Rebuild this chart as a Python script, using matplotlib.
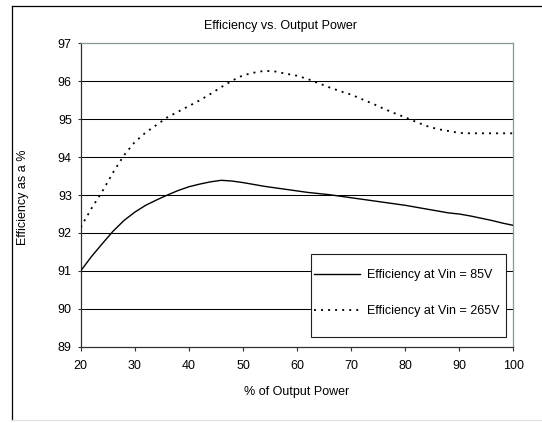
import matplotlib
matplotlib.use("Agg")
import matplotlib.pyplot as plt
from matplotlib.lines import Line2D
from matplotlib.patches import Rectangle

plt.rcParams['font.family'] = ['Liberation Sans', 'DejaVu Sans']
plt.rcParams['font.size'] = 9

# % of output power
power = [20, 22, 24, 26, 28, 30, 32, 34, 36, 38, 40, 42, 44, 46, 48, 50,
         52, 54, 56, 58, 60, 62, 64, 66, 68, 70, 72, 74, 76, 78, 80,
         82, 84, 86, 88, 90, 92, 94, 96, 98, 100]

# efficiency at Vin = 85V
eff_85 = [91.0, 91.38, 91.72, 92.05, 92.33, 92.55, 92.73, 92.87, 93.0, 93.12, 93.22,
          93.29, 93.35, 93.39, 93.37, 93.33, 93.28, 93.23, 93.19, 93.15, 93.11,
          93.07, 93.04, 93.01, 92.97, 92.93, 92.89, 92.85, 92.81, 92.77, 92.73,
          92.68, 92.63, 92.58, 92.53, 92.5, 92.45, 92.39, 92.33, 92.26, 92.2]

# efficiency at Vin = 265V
eff_265 = [92.15, 92.65, 93.1, 93.6, 94.05, 94.4, 94.65, 94.85, 95.05, 95.2, 95.35,
           95.5, 95.67, 95.85, 96.02, 96.16, 96.23, 96.28, 96.26, 96.2, 96.15,
           96.06, 95.95, 95.84, 95.74, 95.65, 95.53, 95.41, 95.28, 95.16, 95.05,
           94.93, 94.82, 94.74, 94.69, 94.64, 94.63, 94.63, 94.63, 94.63, 94.63]

xticks = [20, 30, 40, 50, 60, 70, 80, 90, 100]
yticks = [89, 90, 91, 92, 93, 94, 95, 96, 97]

fig = plt.figure(figsize=(5.42, 4.23), dpi=100)
ax = fig.add_axes([0.1489, 0.1804, 0.7985, 0.7168])

for y in yticks[1:-1]:
    ax.axhline(y, color='black', lw=0.75, zorder=1)

ax.plot(power, eff_85, color='black', lw=1.0, label='Efficiency at Vin = 85V', zorder=3)
ax.plot(power, eff_265, color='black', lw=1.3, linestyle=(0, (1.1, 2.8)),
        label='Efficiency at Vin = 265V', zorder=3)

ax.set_xlim(20, 100)
ax.set_ylim(89, 97)
ax.set_xticks(xticks)
ax.set_yticks(yticks)
ax.tick_params(axis='x', direction='out', length=3, width=0.8, pad=6.5, colors='#303030', labelcolor='black')
ax.tick_params(axis='y', direction='out', length=2.4, width=0.8, pad=4, colors='#303030', labelcolor='black')

for s in ['left', 'bottom']:
    ax.spines[s].set_color('#303030')
    ax.spines[s].set_linewidth(0.9)
for s in ['top', 'right']:
    ax.spines[s].set_color('#8a9696')
    ax.spines[s].set_linewidth(0.9)

# legend box
ax.add_patch(Rectangle((0.531, 0.033), 0.452, 0.272, transform=ax.transAxes,
                       facecolor='white', edgecolor='#202020', lw=0.8, zorder=4))
ax.legend(loc='center left', bbox_to_anchor=(0.5384, 0.176), frameon=False,
          borderpad=0, borderaxespad=0, handlelength=3.7, handletextpad=0.53,
          labelspacing=1.94, fontsize=9).set_zorder(5)

fig.text(0.518, 1 - 26 / 423, 'Efficiency vs. Output Power', ha='center', va='center', fontsize=9)
fig.text(0.548, 1 - 391.7 / 423, '% of Output Power', ha='center', va='center', fontsize=9)
fig.text(0.043, 1 - 197 / 423, 'Efficiency as a %', ha='center', va='center',
         rotation=90, fontsize=9)

# outer chart frame
fig.add_artist(Line2D([11.5 / 542, 11.5 / 542], [1 - 420 / 423, 1 - 6.5 / 423],
                      transform=fig.transFigure, color='black', lw=0.9))
fig.add_artist(Line2D([11.5 / 542, 1], [1 - 6.5 / 423, 1 - 6.5 / 423],
                      transform=fig.transFigure, color='black', lw=0.9))
fig.add_artist(Line2D([11.5 / 542, 1], [1 - 420 / 423, 1 - 420 / 423],
                      transform=fig.transFigure, color='#e0e0e0', lw=0.9))

fig.savefig('out.png', dpi=100)
